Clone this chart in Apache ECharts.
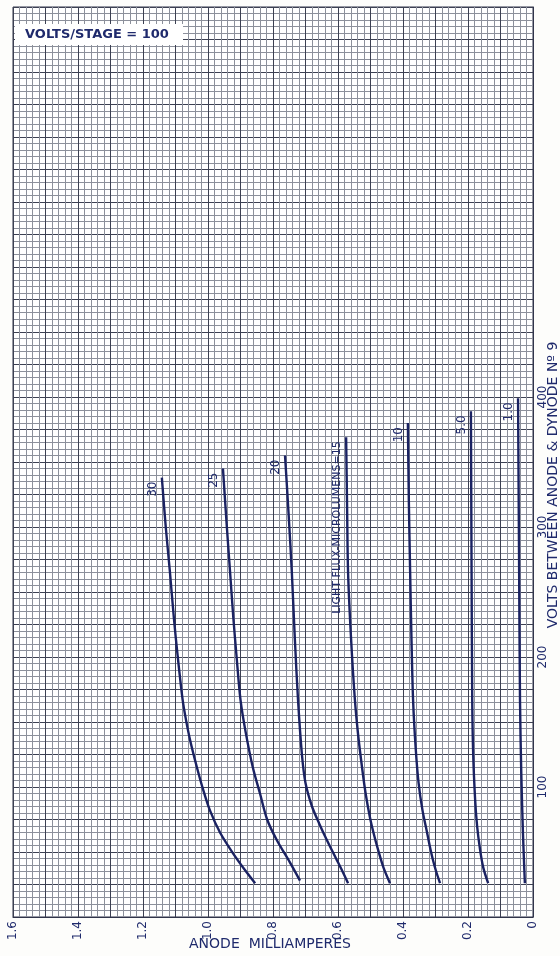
<!DOCTYPE html>
<html>
<head>
<meta charset="utf-8">
<script src="https://cdn.jsdelivr.net/npm/echarts@6/dist/echarts.min.js"></script>
<style>
html,body{margin:0;padding:0;background:#fdfdfb;}
#chart{width:560px;height:956px;}
</style>
</head>
<body>
<div id="chart"></div>
<script>
// ---- data ----
const fluxLabels = ['30', '25', '20', 'LIGHT FLUX-MICROLUMENS=15', '10', '5.0', '1.0'];

// volts between anode & dynode No 9  /  anode milliamperes
const volts30 = [26, 34, 49, 65, 82, 98, 115, 136, 152, 167, 200, 230, 265, 300, 338];
const ma30    = [0.855, 0.880, 0.923, 0.963, 0.994, 1.015, 1.034, 1.055, 1.068, 1.078, 1.093, 1.105, 1.117, 1.130, 1.142];

const volts25 = [28, 42, 59, 75, 95, 115, 142, 167, 200, 230, 265, 300, 345];
const ma25    = [0.717, 0.748, 0.788, 0.818, 0.840, 0.862, 0.884, 0.900, 0.912, 0.922, 0.932, 0.942, 0.954];

const volts20 = [26, 35, 45, 59, 72, 85, 103, 125, 167, 215, 265, 310, 355];
const ma20    = [0.569, 0.586, 0.606, 0.634, 0.658, 0.680, 0.700, 0.711, 0.723, 0.733, 0.742, 0.752, 0.763];

const volts15 = [26, 38, 52, 65, 77, 95, 115, 140, 167, 215, 265, 315, 369];
const ma15    = [0.440, 0.460, 0.477, 0.491, 0.502, 0.515, 0.526, 0.538, 0.548, 0.560, 0.569, 0.572, 0.575];

const volts10 = [26, 35, 44, 55, 65, 82, 103, 130, 167, 215, 265, 320, 380];
const ma10    = [0.286, 0.298, 0.308, 0.318, 0.326, 0.340, 0.352, 0.361, 0.369, 0.374, 0.378, 0.382, 0.385];

const volts5  = [26, 38, 52, 70, 90, 125, 167, 265, 389];
const ma5     = [0.138, 0.153, 0.163, 0.172, 0.178, 0.184, 0.187, 0.189, 0.191];

const volts1  = [26, 45, 65, 110, 167, 280, 399];
const ma1     = [0.025, 0.028, 0.031, 0.036, 0.040, 0.043, 0.046];

const xTickLabels = [1.6, 1.4, 1.2, 1.0, 0.8, 0.6, 0.4, 0.2, 0];
const yTickLabels = [100, 200, 300, 400];

const boxText = 'VOLTS/STAGE = 100';
const xTitle = 'ANODE  MILLIAMPERES';
const yTitle = 'VOLTS BETWEEN ANODE & DYNODE Nº 9';

// ---- build ----
const curves = [
  [ma30, volts30], [ma25, volts25], [ma20, volts20], [ma15, volts15],
  [ma10, volts10], [ma5, volts5], [ma1, volts1]
];
const INK = '#1f2a6c';
const LINE = '#1a2262';

const chart = echarts.init(document.getElementById('chart'), null, {renderer: 'canvas'});

const series = curves.map((c, i) => ({
  type: 'line',
  name: fluxLabels[i],
  data: c[0].map((m, k) => [m, c[1][k]]),
  showSymbol: false,
  smooth: 0.3,
  lineStyle: {color: LINE, width: 2.4},
  z: 5,
  silent: true
}));

const fontFam = '"DejaVu Sans", "Liberation Sans", sans-serif';

chart.setOption({
  animation: false,
  backgroundColor: '#fdfdfb',
  grid: {left: 13, right: 27, top: 7, bottom: 39, show: true, borderColor: '#30344a', borderWidth: 1, backgroundColor: '#ffffff'},
  xAxis: {
    type: 'value', inverse: true, min: 0, max: 1.6, interval: 0.1,
    axisLine: {show: true, lineStyle: {color: '#30344a', width: 1}},
    axisTick: {show: false},
    splitLine: {show: true, lineStyle: {color: '#3c4052', width: 1}},
    minorTick: {show: false, splitNumber: 5},
    minorSplitLine: {show: true, lineStyle: {color: '#8c909b', width: 1}},
    axisLabel: {
      rotate: 90, margin: 4, color: INK, fontFamily: fontFam, fontSize: 12,
      formatter: v => {
        const r = Math.round(v * 10) / 10;
        const hit = xTickLabels.find(t => Math.abs(t - r) < 1e-6 && Math.abs(v - r) < 1e-6);
        if (hit === undefined) return '';
        return hit === 0 ? '0' : hit.toFixed(1);
      }
    }
  },
  yAxis: {
    type: 'value', position: 'right', min: 0, max: 700, interval: 25,
    axisLine: {show: true, lineStyle: {color: '#30344a', width: 1}},
    axisTick: {show: false},
    splitLine: {show: true, lineStyle: {color: '#3c4052', width: 1}},
    minorTick: {show: false, splitNumber: 5},
    minorSplitLine: {show: true, lineStyle: {color: '#8c909b', width: 1}},
    axisLabel: {
      rotate: 90, margin: 4, color: INK, fontFamily: fontFam, fontSize: 12,
      formatter: v => yTickLabels.indexOf(v) >= 0 ? String(v) : ''
    }
  },
  series: series
});

// curve labels anchored to each curve's upper end through the chart's own scales
const graphics = [];
curves.forEach((c, i) => {
  const n = c[0].length - 1;
  const p = chart.convertToPixel({gridIndex: 0}, [c[0][n], c[1][n]]);
  graphics.push({
    type: 'text', x: p[0] - 9, y: p[1] + 4, rotation: Math.PI / 2, z: 10,
    style: {text: fluxLabels[i], fill: INK, font: (i === 3 ? '11px ' : '12px ') + fontFam,
      textAlign: 'right', textVerticalAlign: 'middle'}
  });
});

// box "VOLTS/STAGE = 100"
graphics.push({
  type: 'group', left: 15, top: 24, z: 10,
  children: [
    {type: 'rect', shape: {x: 0, y: 0, width: 168, height: 21}, style: {fill: '#ffffff'}},
    {type: 'text', x: 10, y: 11, style: {text: boxText, fill: INK, font: 'bold 13px ' + fontFam, textVerticalAlign: 'middle'}}
  ]
});

// axis titles
graphics.push({
  type: 'text', x: 270, y: 944, z: 10,
  style: {text: xTitle, fill: INK, font: '14px ' + fontFam, textAlign: 'center', textVerticalAlign: 'middle'}
});
graphics.push({
  type: 'text', x: 553, y: 485, rotation: Math.PI / 2, z: 10,
  style: {text: yTitle, fill: INK, font: '14px ' + fontFam, textAlign: 'center', textVerticalAlign: 'middle'}
});

chart.setOption({graphic: graphics});
</script>
</body>
</html>
